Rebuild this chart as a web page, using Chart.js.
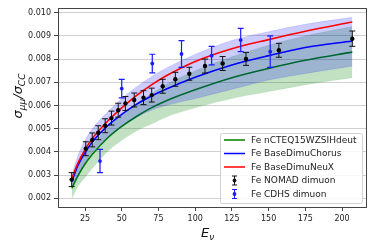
<!DOCTYPE html>
<html>
<head>
<meta charset="utf-8">
<script src="https://cdn.jsdelivr.net/npm/chart.js@4"></script>
<style>
  html, body { margin: 0; padding: 0; background: #fff; }
  #c { display: block; }
</style>
</head>
<body>
<canvas id="c" width="374" height="247"></canvas>
<script>
const energyGrid = [16, 20, 25, 30, 40, 50, 60, 70, 80, 100, 125, 150, 175, 207];
const nctCentral = [0.00243, 0.00295, 0.00348, 0.0039, 0.00458, 0.0051, 0.00553, 0.0059, 0.0062, 0.00668, 0.0072, 0.0076, 0.00795, 0.0083];
const nctUpper   = [0.00278, 0.0034, 0.0039, 0.0043, 0.0050, 0.0056, 0.0061, 0.0065, 0.0069, 0.0075, 0.0081, 0.0086, 0.0090, 0.0094];
const nctLower   = [0.0020, 0.0025, 0.0029, 0.0033, 0.0040, 0.0045, 0.0049, 0.0052, 0.0055, 0.0059, 0.0063, 0.0066, 0.0069, 0.0072];
const chorusCentral = [0.00272, 0.0034, 0.00397, 0.00443, 0.0051, 0.00562, 0.00605, 0.0064, 0.0067, 0.00722, 0.00775, 0.00815, 0.0085, 0.00878];
const chorusUpper   = [0.0030, 0.0038, 0.0045, 0.0050, 0.0057, 0.0063, 0.0068, 0.00723, 0.0076, 0.0082, 0.0088, 0.00918, 0.0095, 0.0098];
const chorusLower   = [0.0025, 0.0030, 0.00355, 0.0040, 0.0046, 0.0051, 0.0055, 0.0058, 0.0060, 0.0063, 0.0067, 0.0071, 0.00738, 0.0077];
const neuxCentral = [0.00285, 0.0035, 0.0041, 0.00458, 0.0053, 0.0059, 0.00643, 0.00688, 0.00727, 0.0079, 0.00845, 0.00884, 0.0092, 0.0096];

// measurements
const nomadE   = [15.9, 25.5, 29.9, 34.0, 38.7, 43.0, 47.6, 52.5, 58.5, 64.8, 70.4, 77.9, 86.5, 96.0, 106.7, 118.7, 134.6, 157.0, 207.0];
const nomadVal = [0.00281, 0.00414, 0.00452, 0.00483, 0.00513, 0.00546, 0.00580, 0.00609, 0.00624, 0.00634, 0.00645, 0.00683, 0.00713, 0.00737, 0.00770, 0.00781, 0.00801, 0.00838, 0.00888];
const nomadErr = [0.0003, 0.0003, 0.0003, 0.0003, 0.0003, 0.0003, 0.0003, 0.0003, 0.0003, 0.0003, 0.0003, 0.0003, 0.0003, 0.00028, 0.0003, 0.0003, 0.00028, 0.0003, 0.00033];
const cdhsE   = [35.2, 50.0, 70.8, 90.7, 111.2, 131.0, 151.1];
const cdhsVal = [0.00361, 0.00673, 0.00781, 0.00822, 0.00815, 0.00882, 0.00832];
const cdhsErr = [0.0005, 0.0004, 0.0004, 0.00058, 0.0004, 0.0005, 0.00068];

const xTicks = [25, 50, 75, 100, 125, 150, 175, 200];
const yTicks = [0.002, 0.003, 0.004, 0.005, 0.006, 0.007, 0.008, 0.009, 0.010];

const legendLabels = ['Fe nCTEQ15WZSIHdeut', 'Fe BaseDimuChorus', 'Fe BaseDimuNeuX', 'Fe NOMAD dimuon', 'Fe CDHS dimuon'];

const pts = (xs, ys) => xs.map((x, i) => ({ x: x, y: ys[i] }));

function drawErrorBars(chart, xs, ys, errs, color, width) {
  const ctx = chart.ctx, sx = chart.scales.x, sy = chart.scales.y;
  ctx.save();
  ctx.strokeStyle = color;
  ctx.lineWidth = width;
  xs.forEach((x, i) => {
    const px = sx.getPixelForValue(x);
    const top = sy.getPixelForValue(ys[i] + errs[i]);
    const bot = sy.getPixelForValue(ys[i] - errs[i]);
    ctx.beginPath();
    ctx.moveTo(px, top); ctx.lineTo(px, bot);
    ctx.moveTo(px - 3, top); ctx.lineTo(px + 3, top);
    ctx.moveTo(px - 3, bot); ctx.lineTo(px + 3, bot);
    ctx.stroke();
  });
  ctx.restore();
}

const extras = {
  id: 'extras',
  beforeDatasetDraw(chart, args) {
    if (args.index === 8) drawErrorBars(chart, nomadE, nomadVal, nomadErr, '#111', 1);
    if (args.index === 9) drawErrorBars(chart, cdhsE, cdhsVal, cdhsErr, '#1a1aff', 1.2);
  },
  afterDraw(chart) {
    const ctx = chart.ctx, a = chart.chartArea;
    ctx.save();
    // frame
    ctx.strokeStyle = '#444';
    ctx.lineWidth = 1;
    ctx.strokeRect(Math.round(a.left) + 0.5, Math.round(a.top) + 0.5, Math.round(a.right - a.left) - 1, Math.round(a.bottom - a.top));

    // legend
    const lx = 220.5, ly = 133.5, lw = 142, lh = 70;
    ctx.fillStyle = 'rgba(255,255,255,0.85)';
    ctx.strokeStyle = '#d0d0d0';
    ctx.beginPath();
    ctx.roundRect(lx, ly, lw, lh, 2);
    ctx.fill(); ctx.stroke();
    const colors = ['#008000', '#0000ff', '#ff0000', '#111', '#1a1aff'];
    ctx.font = '9px "DejaVu Sans"';
    ctx.textBaseline = 'middle';
    legendLabels.forEach((lab, i) => {
      const y = 140 + i * 13.5;
      ctx.strokeStyle = colors[i];
      ctx.fillStyle = colors[i];
      if (i < 3) {
        ctx.lineWidth = 1.5;
        ctx.beginPath(); ctx.moveTo(224, y); ctx.lineTo(245, y); ctx.stroke();
      } else {
        ctx.lineWidth = 1;
        ctx.beginPath();
        ctx.moveTo(234.5, y - 4.5); ctx.lineTo(234.5, y + 4.5);
        ctx.moveTo(232, y - 4.5); ctx.lineTo(237, y - 4.5);
        ctx.moveTo(232, y + 4.5); ctx.lineTo(237, y + 4.5);
        ctx.stroke();
        ctx.beginPath(); ctx.arc(234.5, y, 1.9, 0, Math.PI * 2); ctx.fill();
      }
      ctx.fillStyle = '#222';
      ctx.fillText(lab, 251, y + 0.5);
    });

    // axis titles
    ctx.fillStyle = '#111';
    ctx.textBaseline = 'alphabetic';
    // x: E_nu
    ctx.font = 'italic 13px "DejaVu Sans"';
    ctx.fillText('E', 201, 237);
    const ew = ctx.measureText('E').width;
    ctx.font = 'italic 9px "DejaVu Sans"';
    ctx.fillText('\u03bd', 201 + ew, 240);
    // y: sigma_mumu / sigma_CC
    ctx.translate(17, 96);
    ctx.rotate(-Math.PI / 2);
    const parts = [['\u03c3', 13, 0], ['\u03bc\u03bc', 9, 3], ['/', 13, 0], ['\u03c3', 13, 0], ['CC', 9, 3]];
    let total = 0;
    parts.forEach(p => { ctx.font = 'italic ' + p[1] + 'px "DejaVu Sans"'; total += ctx.measureText(p[0]).width; });
    let cx = -total / 2;
    parts.forEach(p => {
      ctx.font = 'italic ' + p[1] + 'px "DejaVu Sans"';
      ctx.fillText(p[0], cx, 5 + p[2]);
      cx += ctx.measureText(p[0]).width;
    });
    ctx.restore();
  }
};

const lineDs = (label, ys, color, order) => ({
  type: 'line', label: label, data: pts(energyGrid, ys),
  borderColor: color, borderWidth: 1.6, pointRadius: 0, fill: false,
  cubicInterpolationMode: 'monotone', order: order
});
const bandDs = (ys, fill, fillColor, edge, order) => ({
  type: 'line', data: pts(energyGrid, ys),
  borderColor: edge, borderWidth: 0.6, pointRadius: 0, fill: fill,
  backgroundColor: fillColor, cubicInterpolationMode: 'monotone', order: order
});

new Chart(document.getElementById('c').getContext('2d'), {
  type: 'scatter',
  data: {
    datasets: [
      bandDs(nctUpper, 1, 'rgba(0,128,0,0.24)', 'rgba(0,128,0,0.15)', 8),   // 0
      bandDs(nctLower, false, 'transparent', 'rgba(0,128,0,0.15)', 8),      // 1
      lineDs(legendLabels[0], nctCentral, '#008000', 7),                     // 2
      bandDs(chorusUpper, 4, 'rgba(0,0,255,0.2)', 'rgba(0,0,255,0.2)', 6),  // 3
      bandDs(chorusLower, false, 'transparent', 'rgba(0,0,255,0.2)', 6),    // 4
      lineDs(legendLabels[1], chorusCentral, '#0000ff', 5),                  // 5
      lineDs(legendLabels[2], neuxCentral, '#ff0000', 4),                    // 6
      { label: 'spacer', data: [], order: 9 },                               // 7
      { label: legendLabels[3], data: pts(nomadE, nomadVal), backgroundColor: '#000', borderWidth: 0, pointRadius: 2.2, order: 1 },   // 8
      { label: legendLabels[4], data: pts(cdhsE, cdhsVal), backgroundColor: '#1a1aff', borderWidth: 0, pointRadius: 1.9, order: 2 }  // 9
    ]
  },
  options: {
    responsive: false,
    animation: false,
    layout: { padding: { top: 6, right: 7, left: 0, bottom: 0 } },
    plugins: { legend: { display: false }, tooltip: { enabled: false } },
    scales: {
      x: {
        type: 'linear', min: 6.6, max: 217,
        afterBuildTicks: s => { s.ticks = xTicks.map(v => ({ value: v })); },
        afterFit: s => { s.height = 40; },
        grid: { drawOnChartArea: false, drawTicks: true, tickLength: 4, tickColor: '#444' },
        border: { display: false },
        ticks: { color: '#222', font: { family: 'DejaVu Sans', size: 8 }, padding: 3, maxRotation: 0, callback: v => String(v) }
      },
      y: {
        type: 'linear', min: 0.00163, max: 0.01021,
        afterBuildTicks: s => { s.ticks = yTicks.map(v => ({ value: v })); },
        afterFit: s => { s.width = 58; },
        grid: { color: '#cfcfcf', lineWidth: 1, drawTicks: true, tickLength: 4, tickColor: '#444' },
        border: { display: false },
        ticks: { color: '#222', font: { family: 'DejaVu Sans', size: 8 }, padding: 3, callback: v => v.toFixed(3) }
      }
    }
  },
  plugins: [extras]
});
</script>
</body>
</html>
